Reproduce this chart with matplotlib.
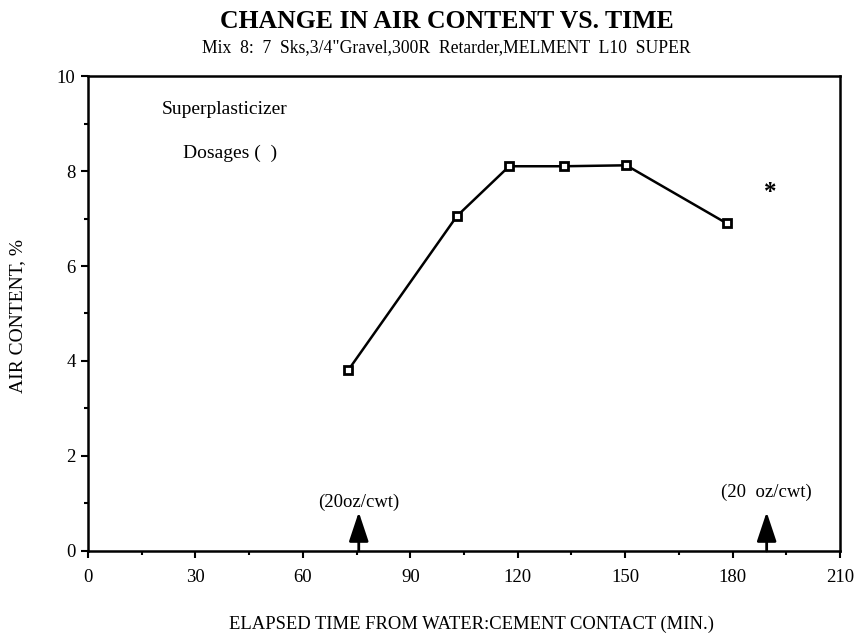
import matplotlib
matplotlib.use("Agg")
import matplotlib.pyplot as plt
from matplotlib.ticker import MultipleLocator

plt.rcParams['font.family'] = ['Liberation Serif', 'DejaVu Serif']

# データ
elapsed_min = [72.6, 103, 117.6, 132.8, 150.3, 178.3]
air_content = [3.8, 7.05, 8.1, 8.1, 8.12, 6.9]

# 減水剤の添加タイミング
dose_time = [75.6, 189.5]
dose_labels = ["(20oz/cwt)", "(20  oz/cwt)"]

x_ticks = [0, 30, 60, 90, 120, 150, 180, 210]
y_ticks = [0, 2, 4, 6, 8, 10]

fig = plt.figure(figsize=(8.58, 6.35), dpi=100)
ax = fig.add_axes([0.1026, 0.1323, 0.8765, 0.748])

ax.plot(elapsed_min, air_content, color='black', lw=1.8,
        marker='s', markersize=6, markerfacecolor='white',
        markeredgecolor='black', markeredgewidth=2)

ax.set_xlim(0, 210)
ax.set_ylim(0, 10)
ax.set_xticks(x_ticks)
ax.set_yticks(y_ticks)
ax.xaxis.set_minor_locator(MultipleLocator(15))
ax.yaxis.set_minor_locator(MultipleLocator(1))
ax.tick_params(which='major', direction='out', length=5, width=1.5,
               labelsize=13.5, pad=4)
ax.tick_params(which='minor', direction='out', length=3, width=1.5)
ax.tick_params(axis='x', pad=8)
for s in ax.spines.values():
    s.set_linewidth(1.8)

# 矢印とラベル
for t, lab, ly in zip(dose_time, dose_labels, [1.02, 1.23]):
    ax.annotate('', xy=(t, 0.82), xytext=(t, 0.0),
                arrowprops=dict(arrowstyle='-|>,head_length=0.9,head_width=0.3',
                                color='black', lw=2, shrinkA=0, shrinkB=0,
                                mutation_scale=20))
    ax.text(t, ly, lab, ha='center', va='center', fontsize=13.5)

ax.text(38.2, 9.3, "Superplasticizer", ha='center', va='center', fontsize=14)
ax.text(39.6, 8.37, "Dosages (  )", ha='center', va='center', fontsize=14)
ax.text(190.6, 7.55, "*", ha='center', va='center', fontsize=18, fontweight='bold')

fig.text(0.021, 0.502, "AIR CONTENT, %", rotation=90, ha='center',
         va='center', fontsize=14)
fig.text(0.55, 0.016, "ELAPSED TIME FROM WATER:CEMENT CONTACT (MIN.)",
         ha='center', va='center', fontsize=13.4)

fig.text(0.521, 0.966, "CHANGE IN AIR CONTENT VS. TIME", ha='center',
         va='center', fontsize=18.5, fontweight='bold')
fig.text(0.52, 0.925, 'Mix  8:  7  Sks,3/4"Gravel,300R  Retarder,MELMENT  L10  SUPER',
         ha='center', va='center', fontsize=12.7)

fig.savefig("out.png", dpi=100)
